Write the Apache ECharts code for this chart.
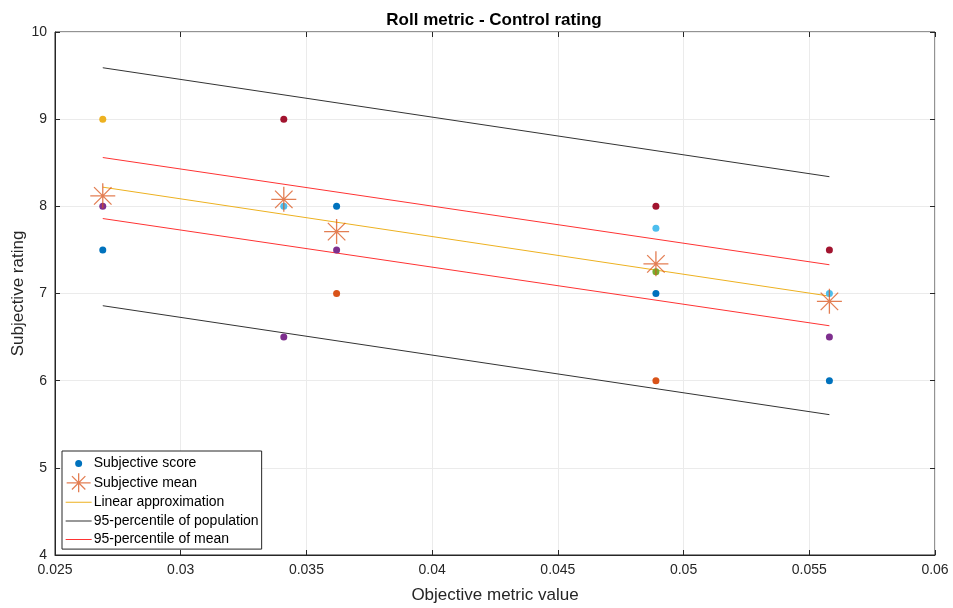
<!DOCTYPE html>
<html>
<head>
<meta charset="utf-8">
<script src="https://cdn.jsdelivr.net/npm/echarts@6/dist/echarts.min.js"></script>
<style>
  html, body { margin: 0; padding: 0; background: #fff; }
  #chart { width: 953px; height: 608px; }
</style>
</head>
<body>
<div id="chart"></div>
<script>
    // objective metric values of the five test cases
    const metricX = [0.0269, 0.0341, 0.0362, 0.0489, 0.0558];

    // subjective scores, one array per rater (null = hidden / not visible)
    const raterScores = [
        [7.5, null, 8, 7, 6],
        [null, null, 7, 6, null],
        [9, null, null, null, null],
        [8, 6.5, 7.5, null, 6.5],
        [null, null, null, 7.25, null],
        [null, 8, null, 7.75, 7],
        [null, 9, null, 8, 7.5]
    ];
    const raterColors = ['#0072BD', '#D95319', '#EDB120', '#7E2F8E', '#77AC30', '#4DBEEE', '#A2142F'];

    const meanY = [8.12, 8.08, 7.71, 7.34, 6.91];

    // line end points (first and last test case)
    const lineX = [0.0269, 0.0558];
    const fitY = [8.22, 6.97];
    const popUpperY = [9.59, 8.34];
    const popLowerY = [6.86, 5.61];
    const meanUpperY = [8.56, 7.33];
    const meanLowerY = [7.86, 6.63];

    const xTicks = [0.025, 0.03, 0.035, 0.04, 0.045, 0.05, 0.055, 0.06];

    const font = 'Liberation Sans';
    const starPath = 'path://M0,10L20,10M10,0L10,20M3,3L17,17M17,3L3,17';
    // legend icons, all in a 26x19 box (corner specks fix the bounds)
    const box = 'M0,0L0.01,0L0,0.01Z M26,19L25.99,19L26,18.99Z ';
    const legendDot = 'path://' + box + 'M16.5,9.5A3.5,3.5,0,1,1,9.5,9.5A3.5,3.5,0,1,1,16.5,9.5Z';
    const legendStar = 'path://M1,9.5L25,9.5M13,0L13,19M6.3,2.8L19.7,16.2M19.7,2.8L6.3,16.2M0,9.5L0,9.5M26,9.5L26,9.5';
    const legendLine = 'path://' + box + 'M0,9L26,9L26,10L0,10Z';

    function pairs(xs, ys) {
        return xs.map((x, i) => [x, ys[i]]);
    }

    let series = [];

    raterScores.forEach((scores, r) => {
        series.push({
            name: 'Subjective score',
            type: 'scatter',
            symbol: 'circle',
            symbolSize: 7,
            color: raterColors[r],
            itemStyle: { opacity: 1 },
            data: metricX.map((x, i) => [x, scores[i]]).filter(p => p[1] !== null),
            z: 5
        });
    });

    series.push({
        name: 'Subjective mean',
        type: 'scatter',
        symbol: starPath,
        symbolSize: 25,
        color: '#D95319',
        itemStyle: { color: 'transparent', borderColor: 'rgba(217,83,25,0.75)', borderWidth: 1.3, opacity: 1 },
        data: pairs(metricX, meanY),
        z: 6
    });

    function lineSeries(name, ys, color) {
        return {
            name: name,
            type: 'line',
            symbol: 'none',
            color: color,
            lineStyle: { width: 1, color: color },
            data: pairs(lineX, ys),
            z: 3
        };
    }

    series.push(lineSeries('Linear approximation', fitY, '#EDB120'));
    series.push(lineSeries('95-percentile of population', popUpperY, '#333333'));
    series.push(lineSeries('95-percentile of population', popLowerY, '#333333'));
    series.push(lineSeries('95-percentile of mean', meanUpperY, '#FF3333'));
    series.push(lineSeries('95-percentile of mean', meanLowerY, '#FF3333'));

    let option = {
        animation: false,
        title: {
            text: 'Roll metric - Control rating',
            left: 489,
            textAlign: 'center',
            top: 7,
            textStyle: { fontFamily: font, fontSize: 17, fontWeight: 'bold', color: '#000' }
        },
        legend: {
            orient: 'vertical',
            left: 62,
            top: 451,
            backgroundColor: '#fff',
            borderColor: '#262626',
            borderWidth: 1,
            borderRadius: 0,
            padding: [3, 3, 0, 3],
            itemGap: -0.3,
            itemWidth: 26,
            itemHeight: 19,
            textStyle: { fontFamily: font, fontSize: 14, color: '#000', padding: [0, 0, 0, -3] },
            data: [
                { name: 'Subjective score', icon: legendDot, itemStyle: { color: '#0072BD', opacity: 1 } },
                { name: 'Subjective mean', icon: legendStar, itemStyle: { color: 'transparent', borderColor: 'rgba(217,83,25,0.75)', borderWidth: 1.3 } },
                { name: 'Linear approximation', icon: legendLine, itemStyle: { color: '#EDB120' } },
                { name: '95-percentile of population', icon: legendLine, itemStyle: { color: '#333333' } },
                { name: '95-percentile of mean', icon: legendLine, itemStyle: { color: '#FF3333' } }
            ],
            z: 10
        },
        grid: {
            left: 55,
            right: 18,
            top: 32,
            bottom: 53,
            outerBoundsMode: 'none',
            show: true,
            borderColor: '#262626',
            borderWidth: 1
        },
        xAxis: [{
            type: 'value',
            min: 0.025,
            max: 0.06,
            interval: 0.005,
            name: 'Objective metric value',
            nameLocation: 'middle',
            nameGap: 32,
            nameTextStyle: { fontFamily: font, fontSize: 17, color: '#262626' },
            axisLine: { lineStyle: { color: '#262626' } },
            axisTick: { inside: true, length: 5, lineStyle: { color: '#262626' } },
            axisLabel: {
                fontFamily: font, fontSize: 14, color: '#262626', margin: 8,
                formatter: v => String(xTicks.find(t => Math.abs(t - v) < 1e-9) ?? v)
            },
            splitLine: { show: true, lineStyle: { color: '#ebebeb' } }
        }, {
            type: 'value',
            position: 'top',
            min: 0.025,
            max: 0.06,
            interval: 0.005,
            axisLine: { show: false },
            axisTick: { inside: true, length: 5, lineStyle: { color: '#262626' } },
            axisLabel: { show: false },
            splitLine: { show: false }
        }],
        yAxis: [{
            type: 'value',
            min: 4,
            max: 10,
            interval: 1,
            name: 'Subjective rating',
            nameLocation: 'middle',
            nameGap: 28,
            nameMoveOverlap: false,
            nameTextStyle: { fontFamily: font, fontSize: 17, color: '#262626' },
            axisLine: { lineStyle: { color: '#262626' } },
            axisTick: { inside: true, length: 5, lineStyle: { color: '#262626' } },
            axisLabel: { fontFamily: font, fontSize: 14, color: '#262626', margin: 8 },
            splitLine: { show: true, lineStyle: { color: '#ebebeb' } }
        }, {
            type: 'value',
            position: 'right',
            min: 4,
            max: 10,
            interval: 1,
            axisLine: { show: false },
            axisTick: { inside: true, length: 5, lineStyle: { color: '#262626' } },
            axisLabel: { show: false },
            splitLine: { show: false }
        }],
        series: series
    };

    let myChart = echarts.init(document.getElementById('chart'));
    myChart.setOption(option);
</script>
</body>
</html>
